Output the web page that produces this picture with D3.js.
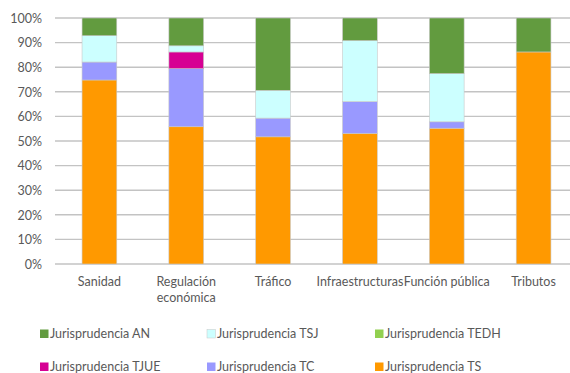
<!DOCTYPE html>
<html><head><meta charset="utf-8">
<script src="https://cdn.jsdelivr.net/npm/d3@7"></script>
<style>html,body{margin:0;padding:0;background:#fff;}svg{display:block;}</style>
</head><body><svg id="c" width="570" height="373"></svg>
<script>
const categories = [["Sanidad"], ["Regulación", "económica"], ["Tráfico"], ["Infraestructuras"], ["Función pública"], ["Tributos"]];
const catKeys = ["Sanidad", "Regulación económica", "Tráfico", "Infraestructuras", "Función pública", "Tributos"];
const seriesNames = ["Jurisprudencia TS", "Jurisprudencia TC", "Jurisprudencia TJUE", "Jurisprudencia TEDH", "Jurisprudencia TSJ", "Jurisprudencia AN"];
const valTS   = [74.8, 55.8, 51.7, 53.1, 55.2, 86.2];
const valTC   = [7.3, 23.6, 7.6, 12.9, 2.6, 0];
const valTJUE = [0, 6.8, 0, 0, 0, 0];
const valTEDH = [0, 0, 0, 0, 0, 0];
const valTSJ  = [10.7, 2.5, 11.3, 24.8, 19.6, 0];
const valAN   = [7.2, 11.3, 29.4, 9.2, 22.6, 13.8];
const colors = ["#ff9900", "#9999ff", "#d60093", "#92d050", "#ccffff", "#629b3f"];
const yTicks = [0, 10, 20, 30, 40, 50, 60, 70, 80, 90, 100];
const legendOrder = ["Jurisprudencia AN", "Jurisprudencia TSJ", "Jurisprudencia TEDH", "Jurisprudencia TJUE", "Jurisprudencia TC", "Jurisprudencia TS"];

const seriesVals = [valTS, valTC, valTJUE, valTEDH, valTSJ, valAN];
const rows = catKeys.map((k, i) => {
  const r = {cat: k};
  seriesNames.forEach((s, j) => r[s] = seriesVals[j][i]);
  return r;
});
const stack = d3.stack().keys(seriesNames)(rows);

const svg = d3.select("#c");
const font = "Lato, 'Open Sans', sans-serif";
const x = d3.scaleBand().domain(catKeys).range([56, 577]).paddingInner(0.6).paddingOuter(0.3);
const y = d3.scaleLinear().domain([0, 100]).range([264, 18]);

// gridlines
svg.append("g").selectAll("line").data(yTicks).join("line")
  .attr("x1", 55).attr("x2", 570)
  .attr("y1", d => y(d)).attr("y2", d => y(d))
  .attr("stroke", "#c3c3c3").attr("stroke-width", 1.4);

// y axis labels
const yAxis = d3.axisLeft(y).tickValues(yTicks).tickFormat(d => d + "%").tickSize(0).tickPadding(0);
const ya = svg.append("g").attr("transform", "translate(42,0)").call(yAxis);
ya.select(".domain").remove();
ya.selectAll("text").attr("font-family", font).attr("font-size", 12.5).attr("fill", "#595959").attr("dy", "0.35em");

// bars
const colorOf = d3.scaleOrdinal().domain(seriesNames).range(colors);
svg.append("g").selectAll("g").data(stack).join("g")
  .attr("fill", d => colorOf(d.key))
  .selectAll("rect").data(d => d.filter(p => p[1] - p[0] > 0)).join("rect")
  .attr("x", d => x(d.data.cat))
  .attr("width", x.bandwidth())
  .attr("y", d => y(d[1]))
  .attr("height", d => y(d[0]) - y(d[1]))
  .attr("stroke", "#c8c8c8").attr("stroke-width", 0.6);

// x labels
const xl = svg.append("g");
catKeys.forEach((k, i) => {
  const t = xl.append("text").attr("x", x(k) + x.bandwidth() / 2).attr("y", 286)
    .attr("text-anchor", "middle").attr("font-family", font).attr("font-size", 12.5).attr("fill", "#595959");
  categories[i].forEach((line, j) => {
    t.append("tspan").attr("x", x(k) + x.bandwidth() / 2).attr("dy", j === 0 ? 0 : 16).text(line);
  });
});

// legend
const lx = [40, 207, 375], ly = [334, 367];
const lg = svg.append("g");
legendOrder.forEach((name, i) => {
  const cx = lx[i % 3], cy = ly[Math.floor(i / 3)];
  lg.append("rect").attr("x", cx).attr("y", cy - 4.5).attr("width", 8.5).attr("height", 8.5)
    .attr("fill", colorOf(name)).attr("stroke", name === "Jurisprudencia TSJ" ? "#c8c8c8" : "none").attr("stroke-width", 0.5);
  lg.append("text").attr("x", cx + 10).attr("y", cy).attr("dy", "0.35em")
    .attr("font-family", font).attr("font-size", 12.5).attr("fill", "#595959").text(name);
});
</script></body></html>
